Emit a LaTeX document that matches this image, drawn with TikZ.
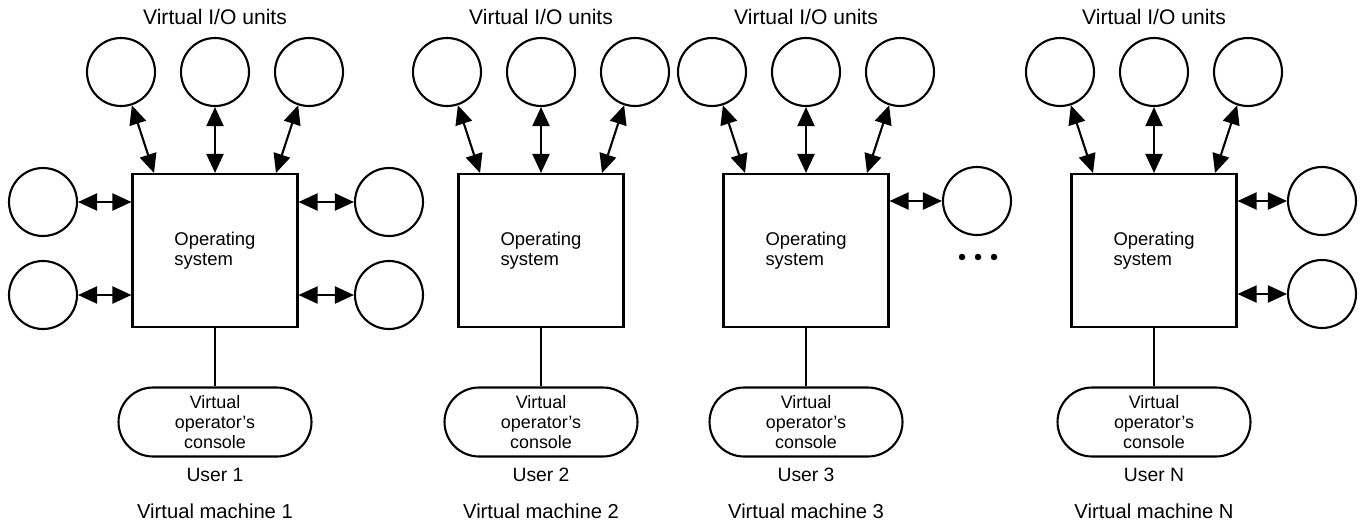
\documentclass[tikz,border=0pt]{standalone}
\usepackage{fontspec}
\setmainfont{Liberation Sans}
\usetikzlibrary{arrows.meta,positioning}
\tikzset{
  unit/.style={circle,draw,line width=1.2pt,minimum size=1.36cm,inner sep=0pt},
  osbox/.style={draw,line width=1.2pt,minimum width=3.3cm,minimum height=3.06cm,align=left,font=\fontsize{10.5}{11.6}\selectfont},
  console/.style={draw,line width=1.2pt,rounded corners=0.69cm,minimum width=3.86cm,minimum height=1.38cm,inner sep=1pt,align=center,font=\fontsize{10.2}{11.4}\selectfont},
  link/.style={line width=1.2pt,{Triangle[length=0.38cm,width=0.34cm]}-{Triangle[length=0.38cm,width=0.34cm]}},
  wire/.style={line width=1.2pt},
}

\begin{document}
\begin{tikzpicture}[x=0.02cm,y=-0.02cm]
  \useasboundingbox (0,0) rectangle (1361,525);
  \foreach \i/\cx/\lbl in {1/215/1, 2/541/2, 3/806/3, n/1154/N} {
    \node[osbox] (os\i) at (\cx,250.5) {Operating\\system};
    \node[font=\fontsize{12}{14}\selectfont] (top\i) at (\cx,17) {Virtual I/O units};
    \node[console] (con\i) at (\cx,422) {Virtual\\operator's\\console};
    \node[font=\fontsize{11}{12}\selectfont] (user\i) at (\cx,475) {User \lbl};
    \node[font=\fontsize{11.5}{13}\selectfont] (vm\i) at (\cx,511) {Virtual machine \lbl};
    \draw[wire] (os\i) -- (con\i);
    \foreach \k/\dx/\sx in {a/-94/-1.22cm, b/0/0cm, c/94/1.22cm} {
      \node[unit] (io\i\k) at (\cx+\dx,72) {};
      \draw[link] (io\i\k) -- ([xshift=\sx]os\i.north);
    }
  }
  % side units
  \node[unit] (io1l1) at (43,202) {};
  \node[unit] (io1l2) at (43,295) {};
  \node[unit] (io1r1) at (389,202) {};
  \node[unit] (io1r2) at (389,295) {};
  \node[unit] (io3r1) at (977,201) {};
  \node[unit] (ionr1) at (1322,201) {};
  \node[unit] (ionr2) at (1322,294) {};
  \draw[link] (io1l1) -- (io1l1 -| os1.west);
  \draw[link] (io1l2) -- (io1l2 -| os1.west);
  \draw[link] (io1r1) -- (io1r1 -| os1.east);
  \draw[link] (io1r2) -- (io1r2 -| os1.east);
  \draw[link] (io3r1) -- (io3r1 -| os3.east);
  \draw[link] (ionr1) -- (ionr1 -| osn.east);
  \draw[link] (ionr2) -- (ionr2 -| osn.east);
  % dots
  \foreach \d in {962,978,994}
    \fill (\d,257) circle (0.065cm);
\end{tikzpicture}
\end{document}
